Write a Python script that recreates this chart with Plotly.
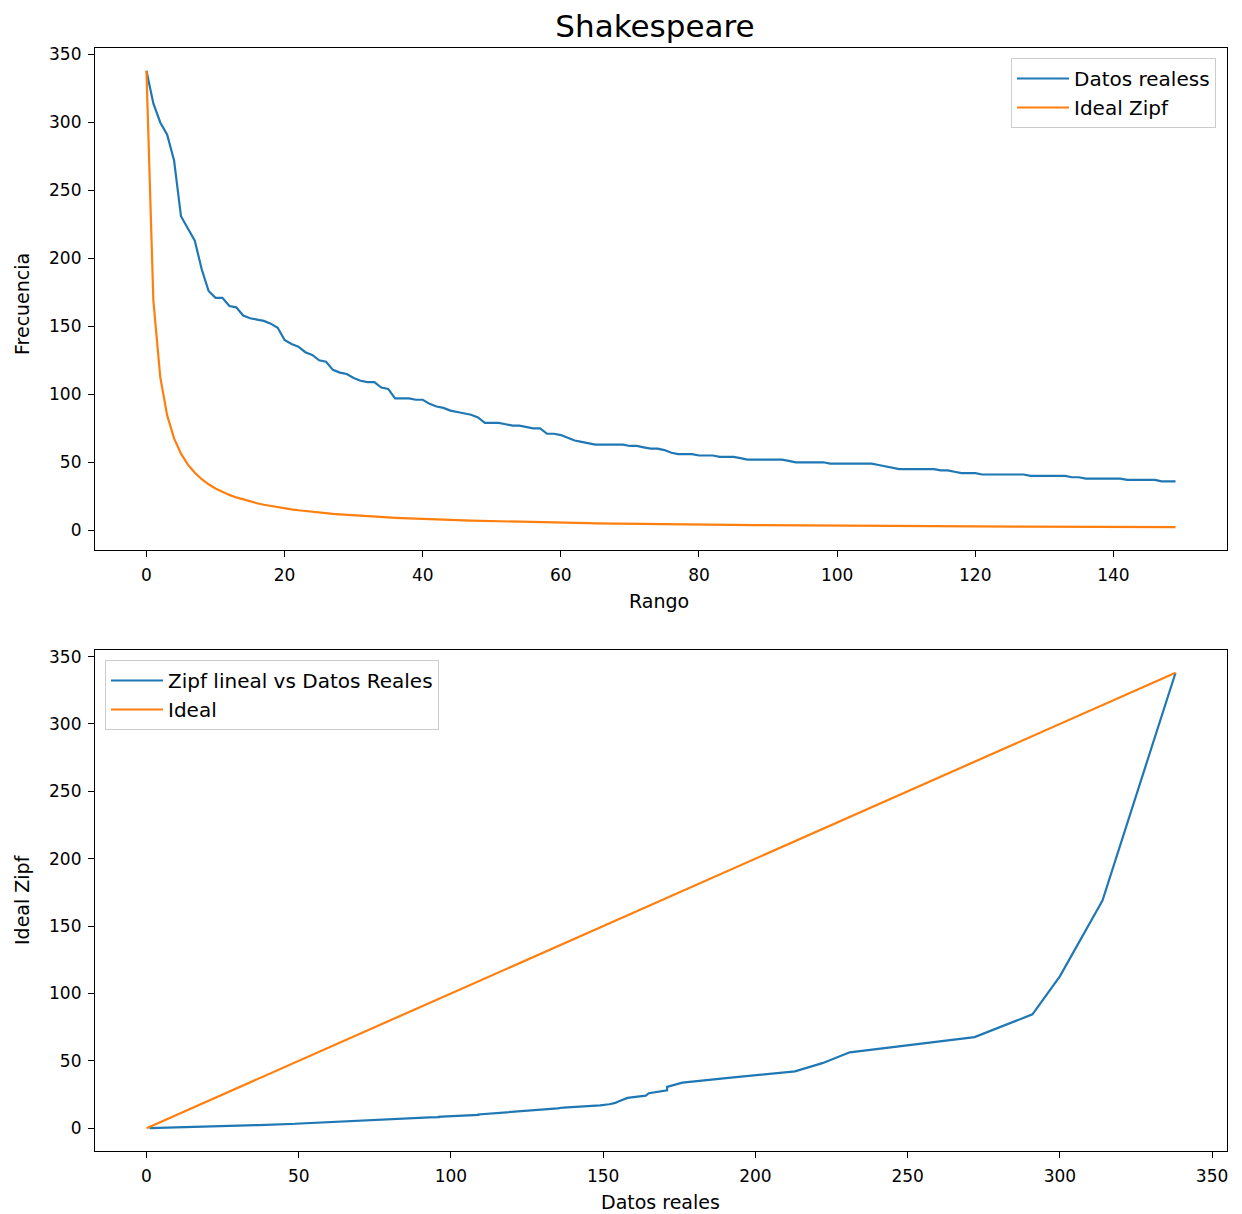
import plotly.graph_objects as go

# ---------------- data ----------------
rango = list(range(150))

datos_reales = [
    338, 314, 300, 291, 272, 231, 222, 213, 192, 176,
    171, 171, 165, 164, 158, 156, 155, 154, 152, 149,
    140, 137, 135, 131, 129, 125, 124, 118, 116, 115,
    112, 110, 109, 109, 105, 104, 97, 97, 97, 96,
    96, 93, 91, 90, 88, 87, 86, 85, 83, 79,
    79, 79, 78, 77, 77, 76, 75, 75, 71, 71,
    70, 68, 66, 65, 64, 63, 63, 63, 63, 63,
    62, 62, 61, 60, 60, 59, 57, 56, 56, 56,
    55, 55, 55, 54, 54, 54, 53, 52, 52, 52,
    52, 52, 52, 51, 50, 50, 50, 50, 50, 49,
    49, 49, 49, 49, 49, 49, 48, 47, 46, 45,
    45, 45, 45, 45, 45, 44, 44, 43, 42, 42,
    42, 41, 41, 41, 41, 41, 41, 41, 40, 40,
    40, 40, 40, 40, 39, 39, 38, 38, 38, 38,
    38, 38, 37, 37, 37, 37, 37, 36, 36, 36,
]

ideal_zipf = [
    338.00, 169.00, 112.67, 84.50, 67.60, 56.33, 48.29, 42.25, 37.56, 33.80,
    30.73, 28.17, 26.00, 24.14, 22.53, 21.13, 19.88, 18.78, 17.79, 16.90,
    16.10, 15.36, 14.70, 14.08, 13.52, 13.00, 12.52, 12.07, 11.66, 11.27,
    10.90, 10.56, 10.24, 9.94, 9.66, 9.39, 9.14, 8.89, 8.67, 8.45,
    8.24, 8.05, 7.86, 7.68, 7.51, 7.35, 7.19, 7.04, 6.90, 6.76,
    6.63, 6.50, 6.38, 6.26, 6.15, 6.04, 5.93, 5.83, 5.73, 5.63,
    5.54, 5.45, 5.37, 5.28, 5.20, 5.12, 5.04, 4.97, 4.90, 4.83,
    4.76, 4.69, 4.63, 4.57, 4.51, 4.45, 4.39, 4.33, 4.28, 4.23,
    4.17, 4.12, 4.07, 4.02, 3.98, 3.93, 3.89, 3.84, 3.80, 3.76,
    3.71, 3.67, 3.63, 3.60, 3.56, 3.52, 3.48, 3.45, 3.41, 3.38,
    3.35, 3.31, 3.28, 3.25, 3.22, 3.19, 3.16, 3.13, 3.10, 3.07,
    3.05, 3.02, 2.99, 2.96, 2.94, 2.91, 2.89, 2.86, 2.84, 2.82,
    2.79, 2.77, 2.75, 2.73, 2.70, 2.68, 2.66, 2.64, 2.62, 2.60,
    2.58, 2.56, 2.54, 2.52, 2.50, 2.49, 2.47, 2.45, 2.43, 2.41,
    2.40, 2.38, 2.36, 2.35, 2.33, 2.32, 2.30, 2.29, 2.27, 2.25,
]

# tail of the full word list (ranks beyond 150), only visible in the lower plot
cola_reales = [30, 20, 10, 5, 1]
cola_zipf = [1.87, 1.10, 0.48, 0.20, 0.03]

x_ticks_top = [0, 20, 40, 60, 80, 100, 120, 140]
y_ticks = [0, 50, 100, 150, 200, 250, 300, 350]
x_ticks_bottom = [0, 50, 100, 150, 200, 250, 300, 350]

# ---------------- figure ----------------
BLUE = "#1f77b4"
ORANGE = "#ff7f0e"
FONT = "DejaVu Sans"
W, H = 1242, 1214

# pixel layout of the two axes boxes
L, R, T, B = 95, 1227, 48, 1151
TOP_BOTTOM, BOT_TOP = 550, 650
PH = B - T
PW = R - L

def dom_y(top_px, bottom_px):
    return [1 - (bottom_px - T) / PH, 1 - (top_px - T) / PH]

def paper_x(page_x):
    return (page_x - L) / PW

def paper_y(page_y):
    return 1 - (page_y - T) / PH

fig = go.Figure()

fig.add_trace(go.Scatter(x=rango, y=datos_reales, mode="lines", name="Datos realess",
                         line=dict(color=BLUE, width=2.2), xaxis="x", yaxis="y", legend="legend"))
fig.add_trace(go.Scatter(x=rango, y=ideal_zipf, mode="lines", name="Ideal Zipf",
                         line=dict(color=ORANGE, width=2.2), xaxis="x", yaxis="y", legend="legend"))

bx = datos_reales + cola_reales
by = ideal_zipf + cola_zipf
ideal_diag = ideal_zipf + cola_zipf
fig.add_trace(go.Scatter(x=bx, y=by, mode="lines", name="Zipf lineal vs Datos Reales",
                         line=dict(color=BLUE, width=2.2), xaxis="x2", yaxis="y2", legend="legend2"))
fig.add_trace(go.Scatter(x=ideal_diag, y=ideal_diag, mode="lines", name="Ideal",
                         line=dict(color=ORANGE, width=2.2), xaxis="x2", yaxis="y2", legend="legend2"))

axis_common = dict(showline=True, linecolor="black", linewidth=1.2, mirror=True,
                   ticks="outside", ticklen=6, tickwidth=1.2, tickcolor="black",
                   showgrid=False, zeroline=False, ticklabelstandoff=3,
                   tickfont=dict(family=FONT, size=17, color="black"))

label_font = dict(family=FONT, size=19, color="black")
annotations = [
    dict(text="Rango", x=paper_x(659), y=paper_y(601), textangle=0),
    dict(text="Datos reales", x=paper_x(660), y=paper_y(1202), textangle=0),
    dict(text="Frecuencia", x=paper_x(22), y=paper_y(304), textangle=-90),
    dict(text="Ideal Zipf", x=paper_x(22), y=paper_y(900), textangle=-90),
]
annotations = [dict(a, xref="paper", yref="paper", xanchor="center", yanchor="middle",
                    showarrow=False, font=label_font) for a in annotations]

fig.update_layout(
    width=W, height=H,
    margin=dict(l=L, r=W - R, t=T, b=H - B, autoexpand=False),
    paper_bgcolor="white", plot_bgcolor="white",
    font=dict(family=FONT, color="black"),
    title=dict(text="Shakespeare", xref="container", yref="container",
               x=655 / W, xanchor="center", y=1 - 26 / H, yanchor="middle",
               font=dict(family=FONT, size=31, color="black")),
    xaxis=dict(domain=[0, 1], anchor="y", range=[-7.45, 156.45], tickvals=x_ticks_top, **axis_common),
    yaxis=dict(domain=dom_y(T, TOP_BOTTOM), anchor="x", range=[-14.54, 354.8], tickvals=y_ticks,
               **axis_common),
    xaxis2=dict(domain=[0, 1], anchor="y2", range=[-16.9, 354.9], tickvals=x_ticks_bottom, **axis_common),
    yaxis2=dict(domain=dom_y(BOT_TOP, B), anchor="x2", range=[-16.9, 354.9], tickvals=y_ticks,
                **axis_common),
    annotations=annotations,
    legend=dict(x=1216 / W, xref="container", xanchor="right",
                y=1 - 58 / H, yref="container", yanchor="top",
                bgcolor="rgba(255,255,255,0.8)", bordercolor="#cccccc", borderwidth=1,
                font=dict(family=FONT, size=20, color="black"), tracegroupgap=0, itemwidth=52),
    legend2=dict(x=105 / W, xref="container", xanchor="left",
                 y=1 - 660 / H, yref="container", yanchor="top",
                 bgcolor="rgba(255,255,255,0.8)", bordercolor="#cccccc", borderwidth=1,
                 font=dict(family=FONT, size=20, color="black"), tracegroupgap=0, itemwidth=52),
    showlegend=True,
)

# remove the default page margin so the figure fills the window exactly
fig.write_html("out.html",
               config={"displayModeBar": False},
               post_script="document.body.style.margin='0';document.body.style.overflow='hidden';")
